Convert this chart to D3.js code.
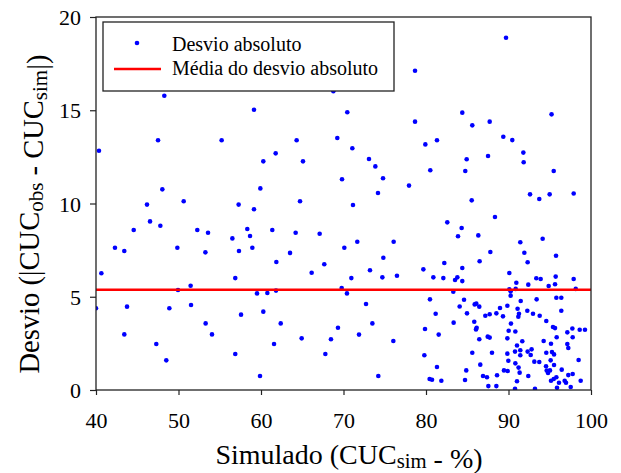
<!DOCTYPE html>
<html>
<head>
<meta charset="utf-8">
<script src="https://cdn.jsdelivr.net/npm/d3@7"></script>
<style>
  body { margin: 0; background: #fff; }
  text { font-family: "Liberation Serif", "Times New Roman", serif; fill: #000; }
</style>
</head>
<body>
<div id="vis"></div>
<script>
// Desvio absoluto: x = CUC simulado (%), y = |CUCobs - CUCsim|
var simulado = [
  48.28, 59.15, 70.46, 68.77, 40.36, 47.52, 55.23, 64.32, 69.25, 61.78,
  60.28, 65.09, 69.82, 48.04, 59.92, 46.18, 50.63, 57.29, 64.73, 59.15,
  46.55, 47.80, 44.57, 52.28, 53.58, 58.34, 58.67, 56.53, 61.37, 64.20,
  67.11, 42.30, 43.43, 49.86, 53.26, 57.33, 58.95, 63.52, 70.10, 61.86,
  67.67, 66.14, 40.65, 56.88, 51.47, 49.94, 59.52, 60.77, 61.82, 69.78,
  70.42, 40.00, 43.76, 48.89, 51.52, 57.58, 60.28, 53.29, 54.06, 62.39,
  69.33, 43.43, 47.31, 64.93, 68.48, 61.58, 56.88, 67.80, 48.52, 59.88,
  89.70, 78.67, 78.67, 84.40, 85.61, 87.72, 95.22, 71.07, 89.37, 90.46,
  79.92, 81.33, 73.09, 73.86, 84.93, 87.52, 91.80, 91.84, 74.79, 80.52,
  84.76, 95.48, 77.94, 74.18, 92.61, 93.73, 94.99, 97.90, 71.15, 85.54,
  88.36, 82.58, 84.32, 83.88, 86.34, 71.67, 76.08, 74.83, 87.80, 86.50,
  82.22, 91.43, 91.92, 92.32, 94.14, 95.76, 73.21, 70.95, 74.71, 76.48,
  79.68, 80.89, 82.10, 84.40, 83.80, 83.52, 84.40, 90.10, 90.95, 92.40,
  93.37, 93.90, 95.72, 95.64, 94.87, 97.90, 83.31, 90.10, 90.87, 90.26,
  98.15, 90.26, 80.48, 84.61, 91.48, 93.41, 95.80, 96.40, 72.73, 84.08,
  85.90, 86.10, 86.46, 88.97, 89.86, 91.10, 96.40, 81.17, 84.97, 87.19,
  87.72, 88.53, 89.33, 91.19, 91.27, 92.28, 92.97, 93.78, 94.58, 85.85,
  83.35, 90.30, 73.50, 79.88, 86.14, 86.06, 90.02, 90.83, 95.39, 95.64,
  97.74, 97.13, 98.63, 99.27, 71.88, 81.54, 87.48, 87.72, 89.86, 95.84,
  97.78, 94.26, 76.04, 86.46, 91.67, 91.03, 95.15, 97.13, 97.25, 92.80,
  92.32, 91.43, 90.79, 92.69, 91.43, 89.86, 88.00, 85.61, 79.80, 94.58,
  95.27, 95.52, 89.98, 90.83, 93.13, 93.73, 95.11, 98.50, 86.58, 81.33,
  91.22, 95.52, 94.55, 84.88, 89.45, 89.90, 91.35, 94.63, 94.79, 95.03,
  96.45, 97.78, 97.25, 92.40, 86.91, 87.39, 88.61, 80.44, 80.73, 81.86,
  84.73, 91.03, 95.15, 95.48, 96.12, 96.81, 96.97, 95.80, 98.75, 87.56,
  88.53, 90.79, 93.21, 95.88, 97.54, 74.22
];
var desvio = [
  15.78, 15.03, 14.89, 16.02, 12.83, 13.39, 13.39, 13.39, 13.51, 12.69,
  12.26, 12.26, 11.30, 10.76, 10.81,  9.94, 10.12,  9.94, 10.12,  9.69,
   9.04,  8.81,  8.58,  8.58,  8.43,  8.63,  8.26,  8.13,  8.58,  8.43,
   8.38,  7.63,  7.45,  7.63,  7.38,  7.45,  7.63,  7.35,  7.63,  6.86,
   6.74,  6.29,  6.26,  6.00,  5.59,  5.36,  5.18,  5.20,  5.33,  5.47,
   5.18,  4.38,  4.47,  4.38,  4.56,  4.04,  4.20,  3.57,  2.98,  3.57,
   3.34,  2.98,  2.47,  2.77,  2.72,  2.47,  1.93,  1.93,  1.59,  0.75,
  18.89, 17.12, 14.39, 14.87, 14.19, 14.39, 14.78, 12.96, 13.58, 13.40,
  13.17, 13.39, 12.39, 11.99, 12.37, 12.55, 12.73, 12.21, 11.35, 11.78,
  11.74, 11.74, 10.96, 10.56, 10.49, 10.24, 10.49, 10.54,  9.92, 10.17,
   9.28,  8.99,  8.69,  8.24,  8.29,  7.95,  7.95,  7.09,  7.40,  6.90,
   6.81,  7.92,  7.36,  6.85,  8.11,  7.20,  6.42,  6.00,  6.04,  6.13,
   6.47,  6.04,  6.00,  6.54,  6.04,  5.90,  5.84,  6.27,  5.75,  5.65,
   5.99,  5.95,  6.08,  5.67,  5.58,  5.95,  5.27,  5.40,  5.42,  5.29,
   5.42,  5.06,  4.86,  4.84,  4.77,  4.86,  4.95,  4.95,  4.61,  4.48,
   4.59,  4.63,  4.47,  4.40,  4.52,  4.36,  4.25,  4.09,  4.11,  3.98,
   4.06,  4.11,  3.95,  3.93,  4.09,  4.25,  4.09,  3.98,  3.70,  3.66,
   3.61,  3.56,  3.57,  3.27,  3.34,  3.25,  3.18,  3.14,  3.38,  3.32,
   3.30,  3.09,  3.23,  3.23,  2.97,  2.97,  2.86,  2.81,  2.77,  2.83,
   2.83,  2.63,  2.63,  2.72,  2.61,  2.39,  2.48,  2.47,  2.25,  2.18,
   2.06,  2.13,  2.06,  1.88,  1.86,  1.95,  2.00,  2.00,  1.86,  2.00,
   2.04,  1.91,  1.57,  1.43,  1.52,  1.50,  1.59,  1.61,  1.36,  1.23,
   1.20,  1.34,  1.27,  1.05,  1.05,  1.02,  0.93,  1.04,  0.91,  1.05,
   1.09,  0.86,  0.80,  0.75,  0.75,  0.68,  0.79,  0.59,  0.55,  0.50,
   0.54,  0.47,  0.50,  0.59,  0.39,  0.50,  0.39,  0.68,  0.50,  0.21,
   0.21,  0.07,  0.07,  0.12,  0.16,  0.75
];
var mediaDesvio = 5.38;

var xTicks = [40, 50, 60, 70, 80, 90, 100];
var yTicks = [0, 5, 10, 15, 20];
var legendLabels = ["Desvio absoluto", "Média do desvio absoluto"];

var serif = "'Liberation Serif', 'Times New Roman', serif";
var W = 621, H = 473;
var m = {left: 96, top: 17, right: 30, bottom: 83};
var pw = W - m.left - m.right, ph = H - m.top - m.bottom;

var svg = d3.select("#vis").append("svg")
  .attr("width", W)
  .attr("height", H);

var x = d3.scaleLinear().domain([40, 100]).range([0, pw]);
var y = d3.scaleLinear().domain([0, 20]).range([ph, 0]);

var g = svg.append("g").attr("transform", "translate(" + m.left + "," + m.top + ")");

g.append("clipPath").attr("id", "clip")
  .append("rect").attr("width", pw).attr("height", ph);

// axes
var xa = g.append("g")
  .attr("transform", "translate(0," + ph + ")")
  .call(d3.axisBottom(x).tickValues(xTicks).tickSize(5).tickSizeOuter(0))
  .attr("font-family", serif).attr("font-size", 22);
xa.select(".domain").remove();
xa.selectAll("line").attr("stroke", "#222").attr("stroke-width", 1.2);
xa.selectAll("text")
  .attr("dy", null).attr("y", 38)
  .style("font-size", "22px")
  .style("font-family", serif);

var ya = g.append("g")
  .call(d3.axisLeft(y).tickValues(yTicks).tickSize(6).tickSizeOuter(0))
  .attr("font-family", serif).attr("font-size", 22);
ya.select(".domain").remove();
ya.selectAll("line").attr("stroke", "#222").attr("stroke-width", 1.2);
ya.selectAll("text")
  .attr("x", -15).attr("dy", "0.35em")
  .style("font-size", "22px")
  .style("font-family", serif);

// points
var pts = d3.zip(simulado, desvio);
g.append("g").attr("clip-path", "url(#clip)")
  .selectAll("circle")
  .data(pts)
  .enter().append("circle")
  .attr("cx", function(d){ return x(d[0]); })
  .attr("cy", function(d){ return y(d[1]); })
  .attr("r", 2.3)
  .attr("fill", "#0000ff");

// mean line
g.append("line")
  .attr("x1", 0).attr("x2", pw)
  .attr("y1", y(mediaDesvio)).attr("y2", y(mediaDesvio))
  .attr("stroke", "#ff0000")
  .attr("stroke-width", 2.5);

// frame
g.append("rect")
  .attr("width", pw).attr("height", ph)
  .attr("fill", "none")
  .attr("stroke", "#222")
  .attr("stroke-width", 1.3);

// legend
var lg = svg.append("g").attr("transform", "translate(103,22)");
lg.append("rect")
  .attr("width", 291).attr("height", 69)
  .attr("fill", "#fff").attr("stroke", "#222").attr("stroke-width", 1.3);
lg.append("circle").attr("cx", 34).attr("cy", 21).attr("r", 2.3).attr("fill", "#0000ff");
lg.append("line").attr("x1", 11).attr("x2", 58).attr("y1", 47).attr("y2", 47)
  .attr("stroke", "#ff0000").attr("stroke-width", 2.5);
lg.selectAll("text.lbl")
  .data(legendLabels)
  .enter().append("text")
  .attr("class", "lbl")
  .attr("x", 69)
  .attr("y", function(d, i){ return 28.5 + i * 24.5; })
  .style("font-size", "20px")
  .text(function(d){ return d; });

// axis titles with subscripts
function subTitle(sel, parts) {
  parts.forEach(function(p){
    if (p.sub) {
      sel.append("tspan").attr("dy", "0.2em").style("font-size", "0.74em").text(p.t);
      sel.append("tspan").attr("dy", "-0.148em").text("");
    } else {
      sel.append("tspan").text(p.t);
    }
  });
}

var xt = svg.append("text")
  .attr("x", 349).attr("y", 464)
  .attr("text-anchor", "middle")
  .style("font-size", "28px");
subTitle(xt, [{t: "Simulado (CUC"}, {t: "sim", sub: true}, {t: " - %)"}]);

var yt = svg.append("text")
  .attr("transform", "translate(39,214) rotate(-90)")
  .attr("text-anchor", "middle")
  .style("font-size", "28.5px");
subTitle(yt, [{t: "Desvio (|CUC"}, {t: "obs", sub: true}, {t: " - CUC"}, {t: "sim", sub: true}, {t: "|)"}]);
</script>
</body>
</html>
